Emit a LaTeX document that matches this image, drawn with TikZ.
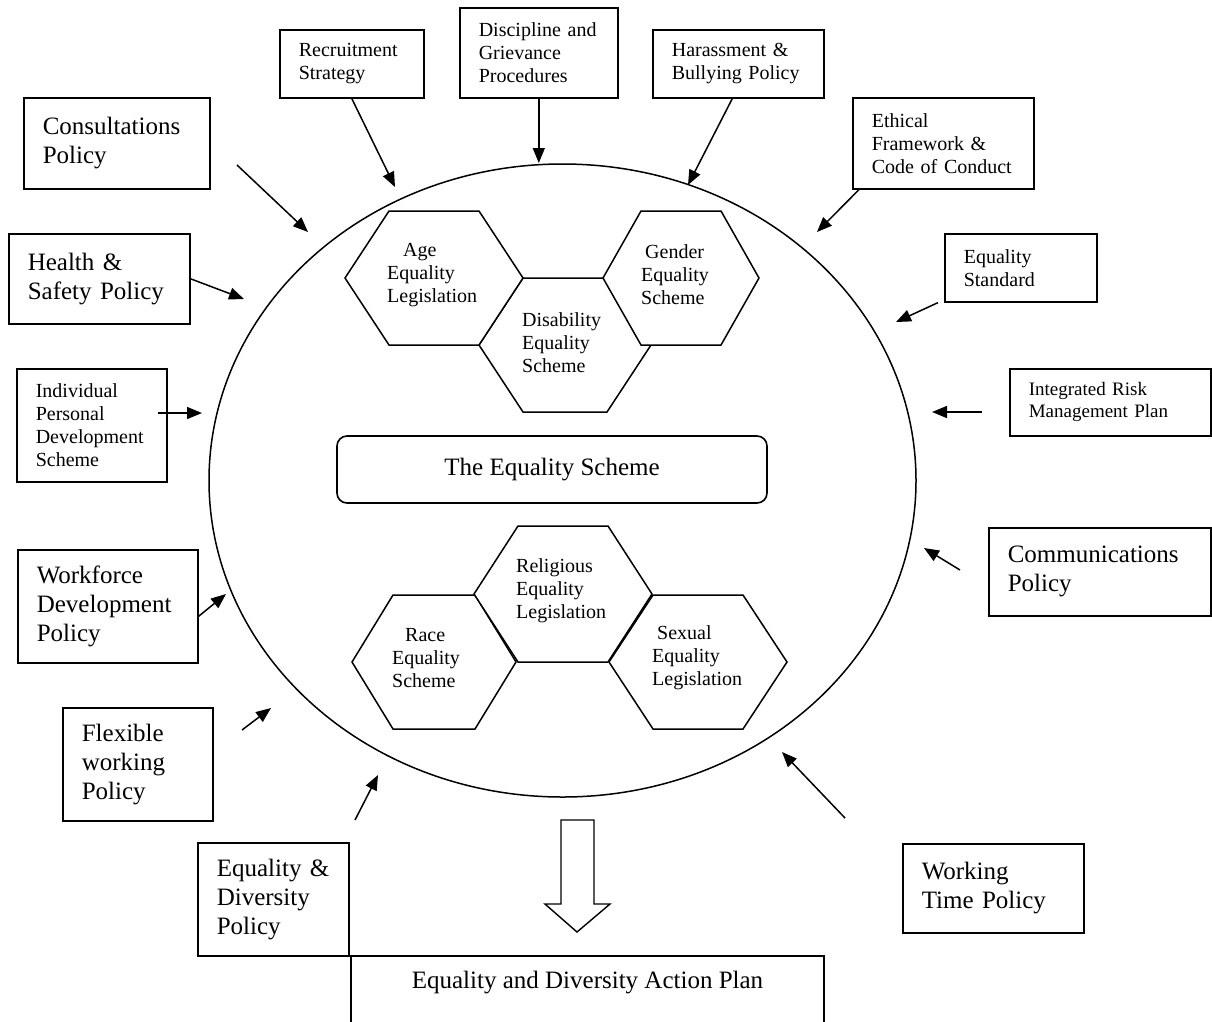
\documentclass[tikz,border=0pt]{standalone}
\usepackage{fontspec}
\setmainfont{Liberation Serif}
\usetikzlibrary{arrows.meta}
\def\hexcell[#1](#2,#3)(#4:#5:#6){\draw[#1] (#2-#4,#3) -- (#2-#5,#3-#6) -- (#2+#5,#3-#6) -- (#2+#4,#3) -- (#2+#5,#3+#6) -- (#2-#5,#3+#6) -- cycle;}
\newcommand{\bigtxt}{\fontsize{25}{29}\selectfont}
\newcommand{\smalltxt}{\fontsize{20}{23}\selectfont}
\newcommand{\risktxt}{\fontsize{19}{22}\selectfont}
\tikzset{
	pbox/.style={draw, line width=1.6pt, anchor=north west, align=left, inner xsep=19pt, inner ysep=2pt},
	feed/.style={line width=1.5pt, -{Triangle[length=15pt,width=12pt]}},
	hexline/.style={line width=1.5pt, fill=white},
	hexlbl/.style={anchor=west, align=left, inner sep=0pt, font=\smalltxt}
}
\begin{document}
\begin{tikzpicture}[x=1pt,y=-1pt]
				%%%%% START %%%%%
				\useasboundingbox (0,0) rectangle (1212,1021);
				\clip (0,0) rectangle (1212,1021);

				\draw[line width=1.5pt] (562.5,480.5) ellipse [x radius=353.5, y radius=316.5];

				% upper cells
				\hexcell[hexline](565,345)(86:42:67);
				\hexcell[hexline](434,278)(89:45:67);
				\hexcell[hexline](681,278)(78:40:67);
				\node[hexlbl] (age) at (387,275) {\hspace*{16pt}Age\\Equality\\Legislation};
				\node[hexlbl] (disab) at (522,343) {Disability\\Equality\\Scheme};
				\node[hexlbl] (gender) at (641,275) {\hspace*{4pt}Gender\\Equality\\Scheme};

				% lower cells
				\hexcell[hexline](434,662)(82:41:67);
				\hexcell[hexline](563,594)(89:45:68);
				\hexcell[hexline](698,662)(89:45:67);
				\node[hexlbl] (race) at (392,658) {\hspace*{13pt}Race\\Equality\\Scheme};
				\node[hexlbl] (relig) at (516,591) {Religious\\Equality\\Legislation};
				\node[hexlbl] (sexual) at (652,658) {\hspace*{5pt}Sexual\\Equality\\Legislation};

				\node[draw, rounded corners=10pt, line width=1.6pt, minimum width=430, minimum height=67, font=\bigtxt] (eqscheme) at (552,469.5) {The Equality Scheme};

				% policies round the ring
				\node[pbox, font=\bigtxt, text width=148pt, minimum height=91] (consult) at (23,97) {Consultations\\Policy};
				\node[pbox, font=\bigtxt, text width=143pt, minimum height=90] (health) at (8,233) {Health \&\\Safety Policy};
				\node[pbox, font=\smalltxt, text width=106pt, minimum height=68] (recruit) at (279,29) {Recruitment\\Strategy};
				\node[pbox, font=\smalltxt, text width=120pt, minimum height=90] (discip) at (459,7) {Discipline and\\Grievance\\Procedures};
				\node[pbox, font=\smalltxt, text width=133pt, minimum height=68] (harass) at (652,29) {Harassment \&\\Bullying Policy};
				\node[pbox, font=\smalltxt, text width=143pt, minimum height=91] (ethic) at (852,97) {Ethical\\Framework \&\\Code of Conduct};
				\node[pbox, font=\smalltxt, text width=114pt, minimum height=68] (stand) at (944,233) {Equality\\Standard};
				\node[pbox, font=\smalltxt, text width=112pt, minimum height=113] (indiv) at (16,368) {Individual\\Personal\\Development\\Scheme};
				\node[pbox, font=\risktxt, text width=163pt, minimum height=67] (integ) at (1009,368) {Integrated Risk\\Management Plan};
				\node[pbox, font=\bigtxt, text width=184pt, minimum height=88] (comm) at (988,527) {Communications\\Policy};
				\node[pbox, font=\bigtxt, text width=142pt, minimum height=113] (work) at (17,549) {Workforce\\Development\\Policy};
				\node[pbox, font=\bigtxt, text width=112pt, minimum height=113] (flex) at (62,707) {Flexible\\working\\Policy};
				\node[pbox, font=\bigtxt, text width=113pt, minimum height=113] (eqdiv) at (197,842) {Equality \&\\Diversity\\Policy};
				\node[pbox, font=\bigtxt, text width=143pt, minimum height=89] (wtime) at (902,843) {Working\\Time Policy};

				\node[draw, line width=1.6pt, anchor=north, minimum width=473, text height=17pt, text depth=60pt, inner ysep=16pt, font=\bigtxt] (plan) at (587.5,955) {Equality and Diversity Action Plan};

				\draw[line width=1.4pt, fill=white] (561,820) -- (594,820) -- (594,904) -- (610,904) -- (577,932) -- (545,904) -- (561,904) -- cycle;

				% loose arrow ends
				\coordinate (recruitT) at (395,187);
				\coordinate (discipT) at (538,163);
				\coordinate (harassT) at (688,185);
				\coordinate (ethicT) at (817,232);
				\coordinate (standT) at (896,322);
				\coordinate (consultS) at (237,165);
				\coordinate (consultT) at (308,232);
				\coordinate (healthT) at (244,299);
				\coordinate (indivS) at (158,413);
				\coordinate (indivT) at (202,413);
				\coordinate (integS) at (982,412);
				\coordinate (integT) at (932,412);
				\coordinate (commS) at (960,570);
				\coordinate (commT) at (924,548);
				\coordinate (workT) at (226,594);
				\coordinate (flexS) at (242,730);
				\coordinate (flexT) at (271,708);
				\coordinate (eqdivS) at (355,820);
				\coordinate (eqdivT) at (378,775);
				\coordinate (wtimeS) at (845,818);
				\coordinate (wtimeT) at (782,752);

				\draw[feed] (recruit.south) -- (recruitT);
				\draw[feed] (discip.south) -- (discip.south |- discipT);
				\draw[feed] ([xshift=-6pt]harass.south) -- (harassT);
				\draw[feed] ([xshift=7pt]ethic.south west) -- (ethicT);
				\draw[feed] ([xshift=-6pt]stand.south west) -- (standT);
				\draw[feed] (consultS) -- (consultT);
				\draw[feed] (health.east) -- (healthT);
				\draw[feed] (indivS) -- (indivT);
				\draw[feed] (integS) -- (integT);
				\draw[feed] (commS) -- (commT);
				\draw[feed] ([yshift=-10pt]work.east) -- (workT);
				\draw[feed] (flexS) -- (flexT);
				\draw[feed] (eqdivS) -- (eqdivT);
				\draw[feed] (wtimeS) -- (wtimeT);
				%%%%% START %%%%%
\end{tikzpicture}
\end{document}
